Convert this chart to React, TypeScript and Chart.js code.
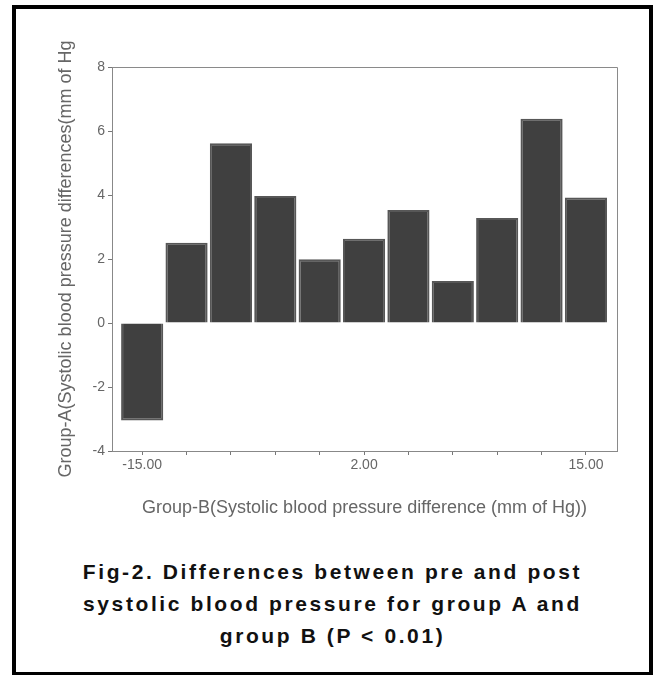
import React, { useEffect, useRef } from "react";
import { Chart, registerables } from "chart.js";

Chart.register(...registerables);

const categoryIndex = [0, 1, 2, 3, 4, 5, 6, 7, 8, 9, 10];
const tickLabels = ["-15.00", "", "", "", "", "2.00", "", "", "", "", "15.00"];
const values = [-3.05, 2.51, 5.62, 3.97, 1.99, 2.63, 3.53, 1.31, 3.28, 6.38, 3.92];
const yTicks = [-4, -2, 0, 2, 4, 6, 8];
const yTitle = "Group-A(Systolic blood pressure differences(mm of Hg";
const xTitle = "Group-B(Systolic blood pressure difference (mm of Hg))";
const captionLines = [
  "Fig-2. Differences between pre and post",
  "systolic blood pressure for group A and",
  "group B (P < 0.01)",
];

const FONT = '"Liberation Sans", Arial, sans-serif';

const boxPlugin = {
  id: "plotBox",
  afterDraw(chart: any) {
    const { ctx, chartArea } = chart;
    ctx.save();
    ctx.strokeStyle = "#8a8a8a";
    ctx.lineWidth = 1;
    ctx.beginPath();
    ctx.moveTo(chartArea.left, chartArea.top + 0.5);
    ctx.lineTo(chartArea.right + 0.5, chartArea.top + 0.5);
    ctx.lineTo(chartArea.right + 0.5, chartArea.bottom);
    ctx.stroke();
    ctx.restore();
  },
};

export default function App() {
  const ref = useRef<HTMLCanvasElement | null>(null);

  useEffect(() => {
    if (!ref.current) return;
    const chart = new Chart(ref.current, {
      type: "bar",
      data: {
        datasets: [
          {
            data: categoryIndex.map((x, i) => ({ x, y: values[i] })),
            backgroundColor: "#404040",
            borderColor: "#575757",
            borderWidth: 2,
            categoryPercentage: 1,
            barPercentage: 0.95,
          } as any,
        ],
      },
      options: {
        animation: false,
        responsive: false,
        maintainAspectRatio: false,
        devicePixelRatio: 1,
        layout: { padding: { left: 0, right: 37, top: 67, bottom: 0 } },
        plugins: {
          legend: { display: false },
          tooltip: { enabled: false },
        },
        scales: {
          x: {
            type: "linear",
            offset: false,
            min: -0.68,
            max: 10.7,
            afterBuildTicks: (s: any) => {
              s.ticks = categoryIndex.map((v) => ({ value: v }));
            },
            afterFit: (s: any) => {
              s.height = 89;
            },
            ticks: {
              autoSkip: false,
              maxRotation: 0,
              callback: (v: any) => tickLabels[v as number] ?? "",
              font: { family: FONT, size: 14 },
              color: "#666",
              padding: 2,
            },
            grid: { offset: false, drawOnChartArea: false, drawTicks: true, tickLength: 4, color: "#777" },
            border: { display: true, color: "#888" },
            title: {
              display: true,
              text: xTitle,
              font: { family: FONT, size: 18 },
              color: "#666",
              padding: { top: 0, bottom: 21 },
            },
          },
          y: {
            min: -4,
            max: 8,
            afterBuildTicks: (s: any) => {
              s.ticks = yTicks.map((v) => ({ value: v }));
            },
            afterFit: (s: any) => {
              s.width = 112;
            },
            ticks: {
              font: { family: FONT, size: 14 },
              color: "#666",
              padding: 3,
            },
            grid: { drawOnChartArea: false, drawTicks: true, tickLength: 4, color: "#777" },
            border: { display: true, color: "#888" },
            title: {
              display: true,
              text: yTitle,
              font: { family: FONT, size: 18 },
              color: "#666",
              padding: { top: 55, bottom: 0 },
            },
          },
        },
      } as any,
      plugins: [boxPlugin],
    });
    return () => chart.destroy();
  }, []);

  return (
    <div style={{ position: "fixed", left: 0, top: 0, width: 654, height: 675, background: "#fff", overflow: "hidden" }}>
      <div
        style={{
          position: "absolute",
          left: 12,
          top: 5,
          width: 641,
          height: 671,
          border: "4px solid #000",
          boxSizing: "border-box",
        }}
      />
      <canvas
        ref={ref}
        width={654}
        height={540}
        style={{ position: "absolute", left: 0, top: 0, width: 654, height: 540 }}
      />
      <div
        style={{
          position: "absolute",
          left: 12,
          width: 641,
          top: 556,
          textAlign: "center",
          fontFamily: FONT,
          fontWeight: "bold",
          fontSize: 21,
          letterSpacing: "2.6px",
          lineHeight: "32px",
          color: "#111",
        }}
      >
        {captionLines.map((l, i) => (
          <div key={i}>{l}</div>
        ))}
      </div>
    </div>
  );
}
